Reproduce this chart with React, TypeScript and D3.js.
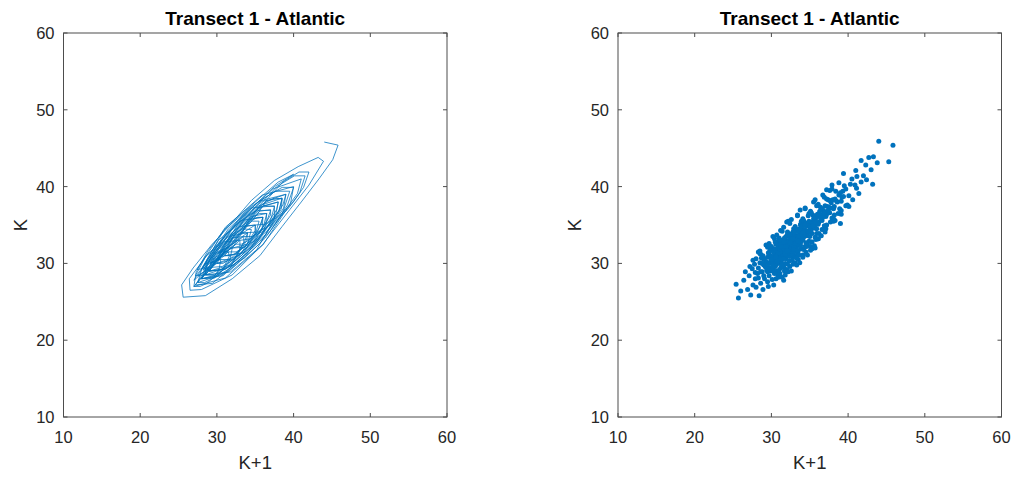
import React from "react";
import * as d3 from "d3";

// ---------- data ----------
const titleText = "Transect 1 - Atlantic";
const xLabel = "K+1";
const yLabel = "K";
const axisTicks = [10, 20, 30, 40, 50, 60];
const axisDomain: [number, number] = [10, 60];

// left panel: trajectory of (K+1, K) pairs, traced as one polyline
const trajectory: [number, number][] = [
  [44.0,45.8],[45.8,45.4],[45.1,43.5],[43.3,41.0],[41.0,38.0],[38.5,34.8],[35.6,31.0],[32.0,28.0],[28.5,25.8],[25.6,25.6],
  [25.4,27.2],[26.9,29.4],[29.3,32.4],[32.0,35.3],[34.5,38.2],[37.5,40.8],[40.6,42.6],[43.2,43.8],[43.9,43.3],[42.0,40.2],
  [39.5,37.0],[36.0,32.5],[32.0,28.5],[28.0,26.6],[26.5,26.5],[26.4,28.0],[28.5,30.8],[31.5,34.0],[34.5,37.2],[37.5,40.0],
  [40.0,41.6],[38.0,40.6],[35.0,38.0],[31.5,35.0],[28.8,31.6],[27.3,28.9],
  [27.0,27.0],[31.1,28.1],[36.0,32.4],[39.6,37.8],[40.0,40.0],[35.9,38.9],[31.1,34.7],[27.4,29.2],
  [29.5,29.5],[30.7,29.6],[32.3,30.6],[34.0,32.2],[35.3,34.1],[36.0,36.0],[34.8,35.9],[32.8,34.6],[31.0,32.6],[29.7,30.7],
  [28.0,28.0],[31.5,28.9],[35.6,32.6],[38.7,37.2],[39.0,39.0],[35.5,38.1],[31.5,34.5],[28.4,29.9],
  [30.5,30.5],[31.9,30.5],[33.7,31.6],[35.5,33.3],[36.9,35.3],[37.5,37.4],[36.1,37.5],[34.0,36.2],[32.0,34.0],[30.6,31.8],
  [27.5,27.5],[30.8,28.6],[34.9,32.3],[38.1,36.8],[38.5,38.5],[35.2,37.4],[31.2,33.8],[28.0,29.3],
  [31.5,31.5],[32.5,31.5],[33.8,32.2],[35.1,33.5],[36.1,34.9],[36.5,36.5],[35.5,36.5],[34.0,35.6],[32.5,34.0],[31.6,32.4],
  [28.5,28.5],[31.8,28.9],[35.2,31.8],[37.5,35.8],[37.5,37.5],[34.3,37.2],[30.9,34.3],[28.6,30.3],
  [28.5,28.5],[29.7,28.5],[31.3,29.4],[32.8,30.8],[34.0,32.6],[34.5,34.4],[33.3,34.5],[31.4,33.4],[29.7,31.5],[28.6,29.7],
  [29.0,29.0],[31.8,29.8],[35.2,32.8],[37.7,36.5],[38.0,38.0],[35.2,37.2],[31.9,34.3],[29.3,30.5],
  [32.0,32.0],[33.5,32.1],[35.5,33.3],[37.6,35.2],[39.2,37.6],[40.0,39.9],[38.5,39.9],[36.0,38.4],[33.7,35.9],[32.1,33.5],
  [28.0,28.0],[30.8,28.4],[33.8,31.0],[35.9,34.5],[36.0,36.0],[33.2,35.6],[30.2,33.0],[28.1,29.5],
  [27.5,27.5],[28.4,27.5],[29.6,28.1],[30.8,29.2],[31.7,30.5],[32.0,32.0],[31.1,32.0],[29.6,31.2],[28.4,29.8],[27.5,28.4],
  [30.0,30.0],[32.7,31.0],[36.0,34.0],[38.6,37.6],[39.0,39.0],[36.4,38.1],[33.1,35.1],[30.4,31.4],
  [33.5,33.5],[34.5,33.5],[35.9,34.1],[37.2,35.4],[38.1,36.9],[38.5,38.4],[37.5,38.5],[35.9,37.7],[34.4,36.1],[33.5,34.5],
  [29.0,29.0],[31.2,29.3],[33.4,31.2],[35.0,33.9],[35.0,35.0],[32.9,34.8],[30.6,32.8],[29.1,30.2],
  [30.0,30.0],[30.8,30.0],[31.8,30.6],[32.8,31.6],[33.6,32.8],[34.0,34.0],[33.2,34.0],[32.0,33.2],[30.9,31.9],[30.1,30.7],
  [31.0,31.0],[33.6,31.4],[36.4,33.8],[38.4,37.1],[38.5,38.5],[35.9,38.1],[33.1,35.7],[31.1,32.4],
  [29.0,29.0],[31.0,29.2],[33.6,30.7],[36.3,33.3],[38.5,36.4],[39.5,39.4],[37.6,39.4],[34.3,37.3],[31.4,34.1],[29.2,30.9],
  [28.0,28.0],[30.0,28.4],[32.2,30.4],[33.9,33.0],[34.0,34.0],[32.0,33.6],[29.8,31.6],[28.2,29.1],
  [31.0,31.0],[31.9,31.0],[33.0,31.7],[34.2,32.8],[35.1,34.1],[35.5,35.5],[34.6,35.5],[33.2,34.6],[32.0,33.2],[31.1,31.8],
  [30.0,30.0],[32.2,30.5],[34.6,32.6],[36.4,35.4],[36.5,36.5],[34.4,36.1],[31.9,33.9],[30.2,31.2],
  [34.0,34.0],[35.4,34.1],[37.3,35.2],[39.2,37.0],[40.8,39.2],[41.5,41.4],[40.1,41.4],[37.8,40.0],[35.6,37.6],[34.2,35.4],
  [32.0,32.0],[33.9,32.5],[36.1,34.5],[37.8,37.0],[38.0,38.0],[36.1,37.5],[33.9,35.5],[32.2,33.0],
  [28.0,28.0],[29.7,28.1],[31.9,29.5],[34.3,31.7],[36.1,34.3],[37.0,36.9],[35.3,36.9],[32.6,35.2],[30.0,32.3],[28.2,29.6],
  [29.0,29.0],[30.6,29.2],[32.3,30.7],[33.5,32.7],[33.5,33.5],[31.9,33.3],[30.2,31.8],[29.1,29.9],
  [32.5,32.5],[33.2,32.5],[34.1,33.0],[35.0,33.8],[35.7,34.9],[36.0,36.0],[35.3,36.0],[34.2,35.4],[33.2,34.2],[32.6,33.2],
  [31.0,31.0],[32.4,31.2],[33.9,32.5],[35.0,34.3],[35.0,35.0],[33.6,34.8],[32.1,33.5],[31.1,31.8],
  [27.0,27.0],[27.8,27.0],[28.7,27.4],[29.6,28.2],[30.3,29.3],[30.5,30.5],[29.7,30.6],[28.6,30.0],[27.6,28.8],[27.0,27.8],
  [33.0,33.0],[34.4,33.2],[35.9,34.5],[37.0,36.3],[37.0,37.0],[35.6,36.8],[34.1,35.5],[33.1,33.8],
  [35.0,35.0],[36.3,35.1],[38.1,36.2],[39.9,37.9],[41.3,39.9],[42.0,41.9],[40.7,41.9],[38.6,40.6],[36.6,38.4],[35.2,36.3],
  [28.5,28.5],[29.7,28.5],[30.9,29.5],[31.6,30.9],[31.5,31.5],[30.3,31.5],[29.2,30.6],[28.5,29.2],
  [27.2,27.2],[29.4,27.4],[31.6,29.2],[33.0,31.8],[33.0,33.0],[30.8,32.8],[28.6,31.0],[27.2,28.4],
  [28.5,28.5],[32.2,29.8],[36.8,34.0],[40.5,39.1],[41.0,41.0],[37.3,39.7],[32.7,35.5],[29.1,30.5],
];

// right panel: scatter of (K+1, K)
const scatterPoints: [number, number][] = [
  [25.4,27.3],[25.7,25.5],[28.4,25.8],[26.4,27.8],[27.1,28.4],[26.9,26.6],[27.6,27.2],[28.0,26.9],[27.3,25.9],[26.0,26.4],
  [27.9,28.0],[28.6,27.4],[26.6,28.9],[27.5,29.3],[28.9,26.6],[28.2,28.7],
  [28.3,29.4],[29.1,28.0],[29.5,27.6],[27.8,29.9],[28.8,28.9],[29.7,28.4],[28.5,30.1],[30.1,27.9],[29.3,29.5],[28.0,30.6],
  [30.3,27.2],[29.0,29.8],[29.9,29.0],[27.6,30.4],[30.6,28.0],[28.7,30.7],[29.6,27.0],[30.4,28.8],[27.9,28.8],
  [29.4,29.1],[30.2,29.3],[29.0,30.5],[30.8,28.6],[28.6,31.2],[29.8,30.0],[31.1,28.4],[30.5,29.6],[29.3,30.2],[28.9,31.0],
  [31.4,28.2],[30.0,29.4],[29.5,30.8],[30.7,29.0],[28.3,31.5],[31.0,29.1],[29.9,30.3],[30.4,28.7],[29.1,30.6],[31.6,27.8],
  [30.6,29.9],[28.8,30.0],[30.1,30.1],[29.6,29.4],[31.2,29.4],[28.5,31.6],[30.9,28.2],[29.7,31.2],
  [30.2,30.6],[31.0,30.0],[30.5,31.2],[31.6,29.5],[29.8,31.6],[30.9,30.8],[32.0,29.2],[30.4,30.4],[31.3,30.3],[29.5,32.1],
  [31.8,30.0],[30.7,31.0],[32.2,28.9],[30.0,31.9],[31.5,30.7],[30.6,30.1],[29.9,31.0],[31.1,31.3],[32.4,29.6],[30.3,31.5],
  [31.7,29.0],[29.3,32.4],[31.4,29.8],[30.8,31.6],[32.6,29.0],[30.1,30.8],[31.9,30.6],[29.7,32.6],[31.2,30.9],[30.5,29.7],
  [32.1,29.9],[30.9,31.9],[29.6,31.4],[31.5,31.2],[30.0,32.2],[32.3,30.3],
  [31.2,31.6],[32.1,31.0],[31.4,32.3],[32.7,30.4],[30.8,32.7],[31.9,31.7],[33.1,30.1],[31.5,31.3],[32.3,31.4],[30.4,33.2],
  [32.9,30.8],[31.7,32.1],[33.3,29.8],[31.0,33.0],[32.5,31.6],[31.6,31.0],[30.9,32.1],[32.0,32.4],[33.5,30.5],[31.2,32.6],
  [32.8,29.9],[30.2,33.5],[32.4,30.9],[31.8,32.7],[33.7,30.1],[31.1,31.9],[32.9,31.5],[30.7,33.7],[32.2,32.0],[31.5,30.6],
  [33.0,31.0],[31.9,33.0],[30.6,32.5],[32.6,32.1],[31.0,33.3],[33.4,31.2],[32.0,32.5],[31.3,33.0],[32.7,31.3],[31.7,31.6],
  [32.2,32.4],[33.1,31.9],[32.5,33.3],[33.5,31.6],[31.9,33.5],[32.8,32.9],[34.1,31.1],[32.4,32.3],[33.3,32.2],[31.4,34.2],
  [33.9,31.9],[32.7,33.1],[34.1,30.8],[32.1,33.8],[33.6,32.6],[32.6,32.0],[31.8,33.1],[33.2,33.2],[34.5,31.5],[32.3,33.6],
  [33.6,31.1],[31.2,34.3],[33.4,31.7],[32.9,33.5],[34.7,31.1],[32.0,32.9],[33.8,32.7],[31.6,34.7],[33.2,32.8],[32.6,31.6],
  [34.2,31.8],[32.8,34.0],[31.7,33.3],[33.6,33.1],[32.1,34.1],[34.4,32.2],[33.0,33.5],[32.4,33.8],[33.8,32.3],[32.7,32.6],
  [33.2,33.6],[34.1,33.0],[33.4,34.3],[34.7,32.4],[32.9,34.5],[33.8,33.9],[35.1,32.2],[33.5,33.3],[34.2,33.4],[32.4,35.2],
  [34.9,32.9],[33.6,34.1],[35.3,31.9],[33.1,34.8],[34.6,33.6],[33.7,33.0],[32.8,34.1],[34.0,34.4],[35.3,32.8],[33.4,34.4],
  [34.6,32.2],[32.2,35.5],[34.5,32.7],[33.9,34.5],[35.6,32.3],[33.0,33.9],[35.0,33.5],[32.6,35.7],[34.3,33.8],[33.4,32.8],
  [35.2,32.8],[33.8,35.0],
  [34.3,34.4],[35.1,34.1],[34.4,35.3],[35.7,33.4],[33.9,35.5],[34.8,34.9],[36.1,33.2],[34.5,34.3],[35.2,34.4],[33.4,36.2],
  [35.9,33.9],[34.6,35.1],[36.1,33.2],[34.1,35.8],[35.6,34.6],[34.7,34.0],[33.8,35.1],[35.2,35.2],[36.2,33.9],[34.2,35.6],
  [35.8,33.1],[33.4,36.3],[35.3,33.9],[34.9,35.5],[36.5,33.6],[34.0,34.9],[35.9,34.5],
  [35.3,35.4],[36.1,35.1],[35.4,36.3],[36.6,34.4],[34.9,36.5],[35.8,35.9],[37.1,34.5],[35.5,35.3],[36.2,35.4],[34.4,37.1],
  [36.9,34.9],[35.6,36.1],[37.0,34.1],[35.1,36.8],[36.6,35.6],[35.7,35.0],[34.8,36.2],[36.2,36.2],[37.2,35.0],[35.2,36.6],
  [36.8,34.4],[34.4,37.2],
  [36.3,36.4],[37.1,36.1],[36.4,37.3],[37.7,35.4],[35.9,37.5],[36.8,36.9],[38.1,35.5],[36.5,36.3],[37.2,36.4],[35.5,38.0],
  [37.9,35.9],[36.6,37.1],[38.1,35.8],[36.1,37.7],[37.6,36.6],[36.7,36.0],[37.0,37.5],[38.2,36.3],
  [37.3,37.4],[38.1,37.1],[37.4,38.3],[38.7,36.5],[36.9,38.6],[37.8,37.9],[39.1,36.4],[37.5,37.3],[38.2,37.4],[36.7,38.9],
  [38.9,37.1],[37.6,38.2],[39.1,36.9],[37.2,38.4],
  [38.3,38.4],[39.1,38.1],[38.4,39.4],[39.7,37.5],[37.9,39.7],[38.8,38.9],[39.9,37.6],[38.5,38.1],[39.2,38.6],[37.6,39.5],
  [39.3,39.4],[40.1,38.8],[39.5,40.1],[40.6,38.3],[38.8,40.5],[39.7,39.7],[40.1,37.4],[39.0,39.2],
  [40.3,40.3],[41.1,39.8],[40.5,41.0],[41.4,39.1],[39.4,41.7],[40.9,40.2],
  [42.0,41.4],[41.15,41.3],[41.7,40.6],[42.4,40.9],[41.0,42.1],
  [43.2,40.3],[43.0,42.2],[42.3,42.8],[41.7,43.4],
  [44.0,45.9],[45.85,45.4],[43.3,43.9],[43.8,43.1],[45.3,43.25],[42.7,43.8],
  [37.2,39.6],[37.9,40.2],[35.7,38.3],[33.75,36.95],[32.0,35.4],[30.5,32.8],[28.5,31.3],[27.2,29.6],[35.7,32.0],[35.1,31.7],
  [33.3,30.7],[31.1,28.7],[31.8,28.5],[39.0,35.2],[38.3,35.6],
  [31.4,31.9],[32.6,31.9],[33.3,33.0],[32.1,31.3],[31.0,30.6],[30.3,30.9],[33.9,33.3],[34.6,34.9],[32.9,32.3],[31.8,31.2],
  [30.7,30.4],[32.4,33.0],[33.6,33.6],[31.1,31.5],[34.3,33.6],[30.9,31.3],[32.2,31.6],[33.4,32.5],[29.6,30.0],[30.6,30.8],
  [31.9,32.2],[32.8,33.2],[33.1,32.6],[34.0,33.7],[35.0,34.7],[35.5,35.8],[36.0,36.4],[30.2,29.7],[29.2,29.6],[28.6,28.9],
  [31.6,32.8],[32.3,32.9],[33.7,34.5],[34.4,35.0],[33.0,34.1],[31.3,32.2],[30.4,31.9],[29.9,30.9],[32.5,32.7],[34.8,34.2],
  [35.4,34.9],[36.4,35.9],[36.9,36.6],[37.4,36.9],[38.0,38.3],[38.6,38.0],[39.4,38.7],[37.7,37.2],[36.3,36.8],[35.8,35.4],
  [29.5,28.9],[30.0,30.5],[31.2,30.5],[32.0,31.6],[32.9,31.8],[33.5,32.9],[34.2,34.1],[30.8,30.3],[29.0,28.4],[28.3,28.1],
];

// ---------- layout ----------
const W = 1017;
const H = 479;
const FONT = "'Liberation Sans', Arial, Helvetica, sans-serif";
const TEXT = "#262626";
const AXIS = "#4d4d4d";
const BLUE = "#0072BD";
const panels = [
  { key: "line", left: 63.5 },
  { key: "scatter", left: 618 },
];
const top = 33;
const plotW = 383.5;
const plotH = 384;
const tickLen = 4;

function Panel({ kind, left }: { kind: string; left: number }) {
  const x = d3.scaleLinear().domain(axisDomain).range([left, left + plotW]);
  const y = d3.scaleLinear().domain(axisDomain).range([top + plotH, top]);
  const line = d3
    .line<[number, number]>()
    .x((d) => x(d[0]))
    .y((d) => y(d[1]));
  const cx = left + plotW / 2;
  return (
    <g>
      {kind === "line" ? (
        <path d={line(trajectory) || ""} fill="none" stroke={BLUE} strokeWidth={0.9} strokeLinejoin="miter" strokeOpacity={0.85} />
      ) : (
        <g fill={BLUE}>
          {scatterPoints.map((p, i) => (
            <circle key={i} cx={x(p[0])} cy={y(p[1])} r={2.5} />
          ))}
        </g>
      )}
      <rect x={left} y={top} width={plotW} height={plotH} fill="none" stroke={AXIS} strokeWidth={1} />
      {axisTicks.map((t) => (
        <g key={"xt" + t}>
          <line x1={x(t)} x2={x(t)} y1={top + plotH} y2={top + plotH - tickLen} stroke={AXIS} />
          <line x1={x(t)} x2={x(t)} y1={top} y2={top + tickLen} stroke={AXIS} />
          <text x={x(t)} y={443} textAnchor="middle" fontSize={16.5} fill={TEXT} fontFamily={FONT}>
            {t}
          </text>
        </g>
      ))}
      {axisTicks.map((t) => (
        <g key={"yt" + t}>
          <line x1={left} x2={left + tickLen} y1={y(t)} y2={y(t)} stroke={AXIS} />
          <line x1={left + plotW} x2={left + plotW - tickLen} y1={y(t)} y2={y(t)} stroke={AXIS} />
          <text x={left - 9} y={y(t)} dy="0.36em" textAnchor="end" fontSize={16.5} fill={TEXT} fontFamily={FONT}>
            {t}
          </text>
        </g>
      ))}
      <text x={cx} y={25} textAnchor="middle" fontSize={19} fontWeight="bold" fill="#000" fontFamily={FONT}>
        {titleText}
      </text>
      <text x={cx} y={469} textAnchor="middle" fontSize={18.5} fill={TEXT} fontFamily={FONT}>
        {xLabel}
      </text>
      <text
        transform={`translate(${left - 37},${top + plotH / 2}) rotate(-90)`}
        textAnchor="middle"
        fontSize={18.5}
        fill={TEXT}
        fontFamily={FONT}
      >
        {yLabel}
      </text>
    </g>
  );
}

export default function App() {
  return (
    <svg
      width={W}
      height={H}
      viewBox={`0 0 ${W} ${H}`}
      style={{ position: "absolute", left: 0, top: 0, background: "#fff", display: "block" }}
    >
      <rect x={0} y={0} width={W} height={H} fill="#fff" />
      {panels.map((p) => (
        <Panel key={p.key} kind={p.key} left={p.left} />
      ))}
    </svg>
  );
}
